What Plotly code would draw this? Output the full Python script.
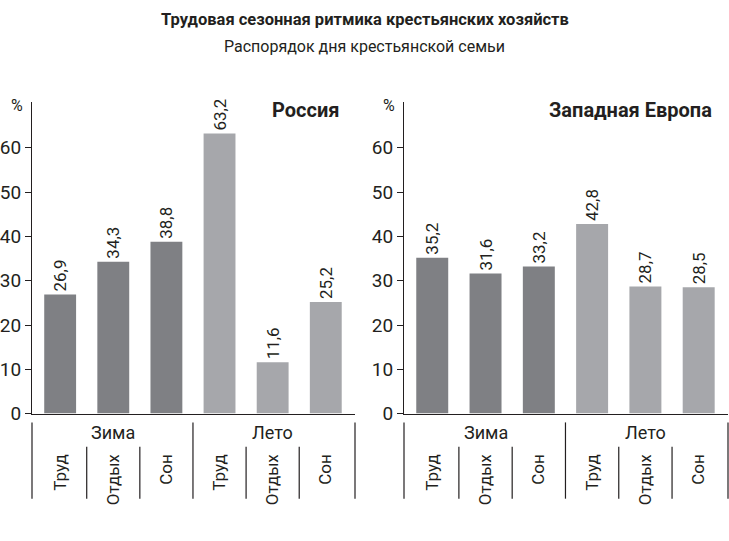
import plotly.graph_objects as go

# Data
seasons = ["Зима", "Лето"]
activities = ["Труд", "Отдых", "Сон"]
russia = [26.9, 34.3, 38.8, 63.2, 11.6, 25.2]
europe = [35.2, 31.6, 33.2, 42.8, 28.7, 28.5]
panel_names = ["Россия", "Западная Европа"]
y_ticks = [0, 10, 20, 30, 40, 50, 60]

title = "Трудовая сезонная ритмика крестьянских хозяйств"
subtitle = "Распорядок дня крестьянской семьи"

FONT = "Roboto, Liberation Sans, sans-serif"
INK = "#231f20"
DARK = "#7f8084"
LIGHT = "#a6a7ab"

W, H = 729, 541
x_pos = list(range(6))
colors = [DARK] * 3 + [LIGHT] * 3
x_range = [-0.53, 5.55]


def px(x):
    return x / W


def py(y):
    return (H - y) / H


fig = go.Figure()

domains = [(px(32), px(355)), (px(404), px(728))]
y_dom = (py(423), py(104))
heading_right = [341, 714]
line = dict(color=INK, width=1.2)

for i, (vals, name) in enumerate(zip([russia, europe], panel_names)):
    sfx = "" if i == 0 else "2"
    lab_sfx = str(3 + i)
    xa, ya, xl = "x" + sfx, "y" + sfx, "x" + lab_sfx

    fig.add_trace(go.Bar(
        x=x_pos, y=vals, xaxis=xa, yaxis=ya,
        marker=dict(color=colors, line=dict(width=0)),
        width=0.6,
        text=[f"{v:.1f}".replace(".", ",") for v in vals],
        textposition="outside", textangle=-90,
        textfont=dict(family=FONT, size=17, color=INK),
        cliponaxis=False, showlegend=False, hoverinfo="skip",
    ))
    # Empty trace that carries the activity-label axis
    fig.add_trace(go.Scatter(
        x=x_pos, y=[None] * 6, xaxis=xl, yaxis=ya,
        mode="markers", showlegend=False, hoverinfo="skip",
    ))

    fig.update_layout(**{
        f"xaxis{sfx}": dict(
            domain=domains[i], range=x_range, anchor=ya,
            showticklabels=False, ticks="", showgrid=False, zeroline=False,
            showline=True, linecolor=INK, linewidth=1.2, fixedrange=True,
        ),
        f"yaxis{sfx}": dict(
            domain=y_dom, range=[0, 70.4], anchor=xa,
            tickvals=y_ticks, ticks="outside", ticklen=6, tickcolor=INK,
            tickwidth=1.2, tickfont=dict(family=FONT, size=19, color=INK),
            showgrid=False, zeroline=False,
            showline=True, linecolor=INK, linewidth=1.2, fixedrange=True,
        ),
        # Activity names under each bar, rotated and hung from the top
        f"xaxis{lab_sfx}": dict(
            overlaying=xa, range=x_range, anchor="free", position=py(460),
            side="bottom", tickvals=x_pos, ticktext=activities * 2,
            tickangle=-90, ticks="", showline=False, showgrid=False,
            zeroline=False, fixedrange=True,
            tickfont=dict(family=FONT, size=17, color=INK),
        ),
    })

    xdom = f"{xa} domain"
    # Panel heading
    fig.add_annotation(
        x=px(heading_right[i]), xref="paper", y=py(113), yref="paper",
        text=f"<b>{name}</b>", showarrow=False, xanchor="right", yanchor="middle",
        font=dict(family=FONT, size=20, color=INK),
    )
    # Percent sign at the top of the value axis
    fig.add_annotation(
        x=0, xref=xdom, xshift=-7, y=py(108), yref="paper",
        text="%", showarrow=False, xanchor="right", yanchor="middle",
        font=dict(family=FONT, size=16, color=INK),
    )

    # Season labels and group dividers
    for s, season in enumerate(seasons):
        fig.add_annotation(
            x=1 + 3 * s, xref=xa, y=py(442), yref="paper",
            text=season, showarrow=False, xanchor="center", yanchor="middle",
            font=dict(family=FONT, size=18, color=INK),
        )
    for xd in (0, 1):
        fig.add_shape(type="line", xref=xdom, yref="paper", x0=xd, x1=xd,
                      y0=py(510), y1=py(432), line=line)
    fig.add_shape(type="line", xref=xa, yref="paper", x0=2.5, x1=2.5,
                  y0=py(510), y1=py(432), line=line)
    for xv in (0.5, 1.5, 3.5, 4.5):
        fig.add_shape(type="line", xref=xa, yref="paper", x0=xv, x1=xv,
                      y0=py(510), y1=py(457), line=line)

fig.add_annotation(
    x=0.5, xref="paper", y=py(20), yref="paper",
    text=f"<b>{title}</b>", showarrow=False, xanchor="center", yanchor="middle",
    font=dict(family=FONT, size=16.5, color=INK),
)
fig.add_annotation(
    x=0.5, xref="paper", y=py(48), yref="paper",
    text=subtitle, showarrow=False, xanchor="center", yanchor="middle",
    font=dict(family=FONT, size=16, color=INK),
)

fig.update_layout(
    width=W, height=H, margin=dict(l=0, r=0, t=0, b=0),
    paper_bgcolor="white", plot_bgcolor="white",
)

fig.write_html("out.html")
